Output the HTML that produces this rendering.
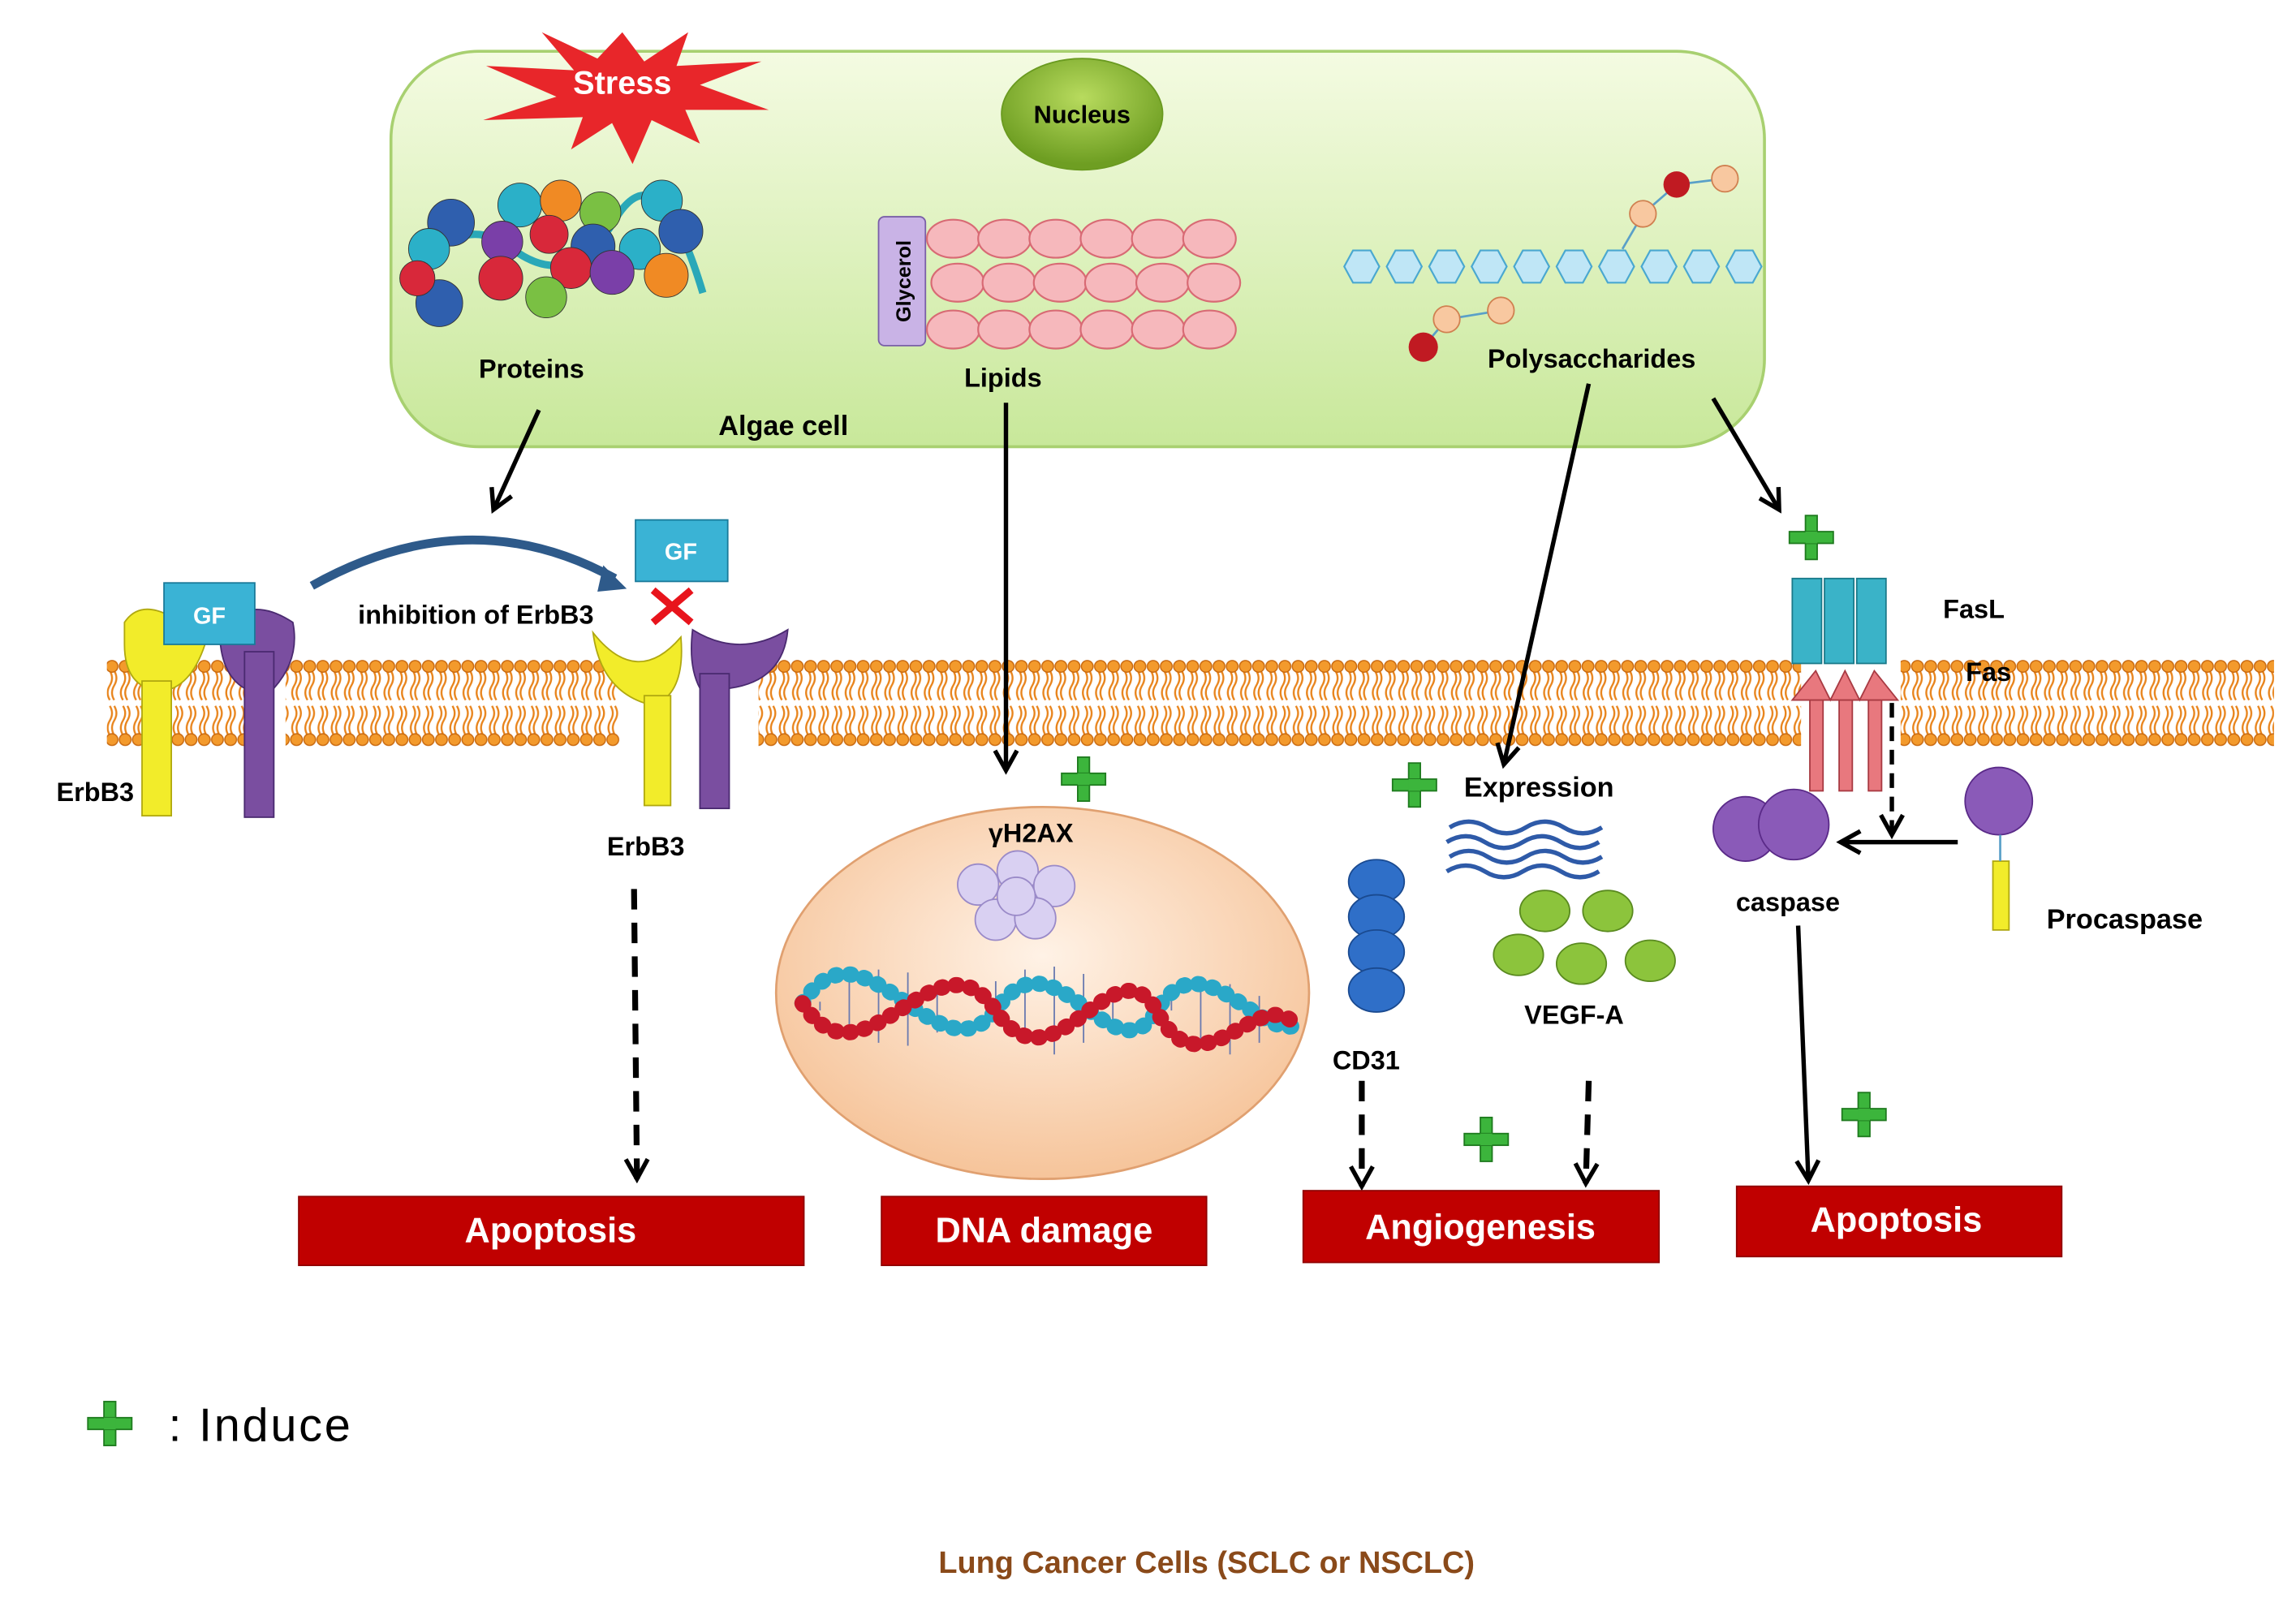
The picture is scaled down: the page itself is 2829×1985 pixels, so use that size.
<!DOCTYPE html>
<html><head><meta charset="utf-8"><style>
html,body{margin:0;padding:0;background:#fff;}
svg{display:block;}
text{font-family:"Liberation Sans",sans-serif;font-weight:bold;}
</style></head><body>
<svg width="2829" height="1985" viewBox="0 0 1568 1100" preserveAspectRatio="none" xmlns="http://www.w3.org/2000/svg">
<defs>
<linearGradient id="cell" x1="0" y1="0" x2="0" y2="1"><stop offset="0" stop-color="#f4fbe2"/><stop offset="1" stop-color="#c8e89a"/></linearGradient>
<radialGradient id="nuc" cx="0.5" cy="0.4" r="0.6"><stop offset="0" stop-color="#fff2e6"/><stop offset="1" stop-color="#f6c49a"/></radialGradient>
<radialGradient id="gnuc" cx="0.5" cy="0.35" r="0.6"><stop offset="0" stop-color="#b8db5e"/><stop offset="1" stop-color="#6e9e22"/></radialGradient>
<pattern id="mem" x="0" y="450" width="9" height="60" patternUnits="userSpaceOnUse">
<path d="M3,8 q3,5 0,10 q-3,5 0,10 M6,8 q3,5 0,10 q-3,5 0,10 M3,32 q3,5 0,10 q-3,5 0,10 M6,32 q3,5 0,10 q-3,5 0,10" stroke="#e8841c" stroke-width="1.3" fill="none"/>
<circle cx="4.5" cy="5" r="4" fill="#f39a2c" stroke="#c8680e" stroke-width="0.8"/>
<circle cx="4.5" cy="55" r="4" fill="#f39a2c" stroke="#c8680e" stroke-width="0.8"/>
</pattern>
<marker id="ah2" viewBox="0 0 12 12" refX="10" refY="6" markerWidth="18" markerHeight="18" orient="auto" markerUnits="userSpaceOnUse"><path d="M1,1 L10,6 L1,11" fill="none" stroke="#000" stroke-width="2"/></marker>
<g id="plus"><rect x="-4" y="-15" width="8" height="30" fill="#3cb53c" stroke="#1e7a1e" stroke-width="1"/><rect x="-15" y="-4" width="30" height="8" fill="#3cb53c" stroke="#1e7a1e" stroke-width="1"/><rect x="-4" y="-4" width="8" height="8" fill="#3cb53c"/></g>
</defs>
<rect width="1568" height="1100" fill="#fff"/>

<rect x="267" y="35" width="938" height="270" rx="60" fill="url(#cell)" stroke="#a8d070" stroke-width="2"/>
<polygon points="425,22 440,42 470,22 462,45 520,42 478,58 525,75 468,75 478,98 445,82 432,112 418,84 390,102 398,80 330,82 380,66 332,45 392,48 370,22 408,40" fill="#e8262a"/>
<text x="425" y="64" font-size="22" fill="#fff" text-anchor="middle">Stress</text>
<ellipse cx="739" cy="78" rx="55" ry="38" fill="url(#gnuc)" stroke="#6a9a20"/>
<text x="739" y="84" font-size="17" text-anchor="middle">Nucleus</text>
<path d="M280,200 Q310,140 350,170 T420,150 T480,200" stroke="#2aa8b8" stroke-width="5" fill="none"/>
<g stroke="#333" stroke-width="0.5">
<circle cx="308" cy="152" r="16" fill="#2f5fae"/><circle cx="355" cy="140" r="15" fill="#2bb0c8"/><circle cx="383" cy="137" r="14" fill="#f08a24"/>
<circle cx="410" cy="145" r="14" fill="#7ac043"/><circle cx="452" cy="137" r="14" fill="#2bb0c8"/><circle cx="465" cy="158" r="15" fill="#2f5fae"/>
<circle cx="293" cy="170" r="14" fill="#2bb0c8"/><circle cx="343" cy="165" r="14" fill="#7a3fa8"/><circle cx="405" cy="168" r="15" fill="#2f5fae"/>
<circle cx="375" cy="160" r="13" fill="#d8283a"/><circle cx="437" cy="170" r="14" fill="#2bb0c8"/><circle cx="342" cy="190" r="15" fill="#d8283a"/>
<circle cx="390" cy="183" r="14" fill="#d8283a"/><circle cx="418" cy="186" r="15" fill="#7a3fa8"/><circle cx="455" cy="188" r="15" fill="#f08a24"/>
<circle cx="300" cy="207" r="16" fill="#2f5fae"/><circle cx="373" cy="203" r="14" fill="#7ac043"/><circle cx="285" cy="190" r="12" fill="#d8283a"/>
</g>
<text x="363" y="258" font-size="18" text-anchor="middle">Proteins</text>
<rect x="600" y="148" width="32" height="88" rx="4" fill="#c9b3e6" stroke="#7a5fa8"/>
<text transform="translate(622,192) rotate(-90)" font-size="14" text-anchor="middle">Glycerol</text>
<g fill="#f6b8bc" stroke="#d86a74" stroke-width="1.2">
<ellipse cx="651" cy="163" rx="18" ry="13"/><ellipse cx="686" cy="163" rx="18" ry="13"/><ellipse cx="721" cy="163" rx="18" ry="13"/><ellipse cx="756" cy="163" rx="18" ry="13"/><ellipse cx="791" cy="163" rx="18" ry="13"/><ellipse cx="826" cy="163" rx="18" ry="13"/>
<ellipse cx="654" cy="193" rx="18" ry="13"/><ellipse cx="689" cy="193" rx="18" ry="13"/><ellipse cx="724" cy="193" rx="18" ry="13"/><ellipse cx="759" cy="193" rx="18" ry="13"/><ellipse cx="794" cy="193" rx="18" ry="13"/><ellipse cx="829" cy="193" rx="18" ry="13"/>
<ellipse cx="651" cy="225" rx="18" ry="13"/><ellipse cx="686" cy="225" rx="18" ry="13"/><ellipse cx="721" cy="225" rx="18" ry="13"/><ellipse cx="756" cy="225" rx="18" ry="13"/><ellipse cx="791" cy="225" rx="18" ry="13"/><ellipse cx="826" cy="225" rx="18" ry="13"/>
</g>
<text x="685" y="264" font-size="18" text-anchor="middle">Lipids</text>
<g fill="#bfe6f6" stroke="#4aa8d0" stroke-width="1.2">
<polygon points="918,182 924,171 936,171 942,182 936,193 924,193"/>
<polygon points="947,182 953,171 965,171 971,182 965,193 953,193"/>
<polygon points="976,182 982,171 994,171 1000,182 994,193 982,193"/>
<polygon points="1005,182 1011,171 1023,171 1029,182 1023,193 1011,193"/>
<polygon points="1034,182 1040,171 1052,171 1058,182 1052,193 1040,193"/>
<polygon points="1063,182 1069,171 1081,171 1087,182 1081,193 1069,193"/>
<polygon points="1092,182 1098,171 1110,171 1116,182 1110,193 1098,193"/>
<polygon points="1121,182 1127,171 1139,171 1145,182 1139,193 1127,193"/>
<polygon points="1150,182 1156,171 1168,171 1174,182 1168,193 1156,193"/>
<polygon points="1179,182 1185,171 1197,171 1203,182 1197,193 1185,193"/>
</g>
<path d="M1108,170 L1122,146 L1145,126 L1178,122 M972,237 L988,218 L1025,212" stroke="#5aa0c8" stroke-width="1.5" fill="none"/>
<circle cx="1122" cy="146" r="9" fill="#f8c8a0" stroke="#d08050"/><circle cx="1145" cy="126" r="9" fill="#c01a22"/><circle cx="1178" cy="122" r="9" fill="#f8c8a0" stroke="#d08050"/>
<circle cx="972" cy="237" r="10" fill="#c01a22"/><circle cx="988" cy="218" r="9" fill="#f8c8a0" stroke="#d08050"/><circle cx="1025" cy="212" r="9" fill="#f8c8a0" stroke="#d08050"/>
<text x="1087" y="251" font-size="18" text-anchor="middle">Polysaccharides</text>
<text x="535" y="297" font-size="19" text-anchor="middle">Algae cell</text>

<rect x="73" y="450" width="95" height="60" fill="url(#mem)"/>
<rect x="195" y="450" width="228" height="60" fill="url(#mem)"/>
<rect x="518" y="450" width="712" height="60" fill="url(#mem)"/>
<rect x="1298" y="450" width="255" height="60" fill="url(#mem)"/>

<path d="M85,425 Q95,410 115,420 L140,440 Q130,470 110,472 Q85,470 85,440 Z" fill="#f2ec2a" stroke="#b0a810"/>
<rect x="97" y="465" width="20" height="92" fill="#f2ec2a" stroke="#b0a810"/>
<path d="M150,430 Q170,405 200,425 Q205,450 187,470 L167,470 Q150,460 150,430 Z" fill="#7a4ea0" stroke="#4a2a70"/>
<rect x="167" y="445" width="20" height="113" fill="#7a4ea0" stroke="#4a2a70"/>
<rect x="112" y="398" width="62" height="42" fill="#3ab3d5" stroke="#1a7a9a"/>
<text x="143" y="426" font-size="16" fill="#fff" text-anchor="middle" font-weight="normal">GF</text>
<text x="65" y="547" font-size="18" text-anchor="middle">ErbB3</text>

<path d="M213,400 Q320,340 420,395" stroke="#2e5a8a" stroke-width="6" fill="none"/>
<polygon points="412,386 428,402 408,404" fill="#2e5a8a"/>
<text x="325" y="426" font-size="18" text-anchor="middle">inhibition of ErbB3</text>
<path d="M405,432 Q435,470 465,435 Q468,470 450,480 L440,480 Q410,470 405,432 Z" fill="#f2ec2a" stroke="#b0a810"/>
<rect x="440" y="475" width="18" height="75" fill="#f2ec2a" stroke="#b0a810"/>
<path d="M473,430 Q505,450 538,430 Q535,465 498,470 L478,470 Q470,455 473,430 Z" fill="#7a4ea0" stroke="#4a2a70"/>
<rect x="478" y="460" width="20" height="92" fill="#7a4ea0" stroke="#4a2a70"/>
<rect x="434" y="355" width="63" height="42" fill="#3ab3d5" stroke="#1a7a9a"/>
<text x="465" y="382" font-size="16" fill="#fff" text-anchor="middle" font-weight="normal">GF</text>
<path d="M446,403 L472,425 M472,403 L446,425" stroke="#e8141c" stroke-width="5"/>
<text x="441" y="584" font-size="18" text-anchor="middle">ErbB3</text>

<line x1="368" y1="280" x2="337" y2="348" stroke="#000" stroke-width="3" marker-end="url(#ah2)"/>
<line x1="687" y1="275" x2="687" y2="526" stroke="#000" stroke-width="3" marker-end="url(#ah2)"/>
<line x1="1085" y1="262" x2="1027" y2="522" stroke="#000" stroke-width="3" marker-end="url(#ah2)"/>
<line x1="1170" y1="272" x2="1215" y2="348" stroke="#000" stroke-width="3" marker-end="url(#ah2)"/>
<line x1="433" y1="607" x2="435" y2="805" stroke="#000" stroke-width="4" stroke-dasharray="14,9" marker-end="url(#ah2)"/>
<line x1="930" y1="738" x2="930" y2="810" stroke="#000" stroke-width="4" stroke-dasharray="14,9" marker-end="url(#ah2)"/>
<line x1="1085" y1="738" x2="1083" y2="808" stroke="#000" stroke-width="4" stroke-dasharray="14,9" marker-end="url(#ah2)"/>
<line x1="1228" y1="632" x2="1235" y2="806" stroke="#000" stroke-width="3" marker-end="url(#ah2)"/>
<line x1="1292" y1="480" x2="1292" y2="570" stroke="#000" stroke-width="3" stroke-dasharray="10,6" marker-end="url(#ah2)"/>
<line x1="1337" y1="575" x2="1257" y2="575" stroke="#000" stroke-width="3" marker-end="url(#ah2)"/>

<ellipse cx="712" cy="678" rx="182" ry="127" fill="url(#nuc)" stroke="#e0a070" stroke-width="1.5"/>
<text x="704" y="575" font-size="18" text-anchor="middle">γH2AX</text>
<g fill="#d9d0f2" stroke="#9a8ac8">
<circle cx="668" cy="604" r="14"/><circle cx="695" cy="595" r="14"/><circle cx="720" cy="605" r="14"/><circle cx="680" cy="628" r="14"/><circle cx="707" cy="627" r="14"/><circle cx="694" cy="612" r="13"/>
</g>
<g stroke="#6a7ab0" stroke-width="1">
<path d="M560,690 L560,684 M580,700 L580,670 M600,712 L600,662 M620,714 L620,664 M640,705 L640,676 M680,690 L680,670 M700,710 L700,662 M720,720 L720,660 M740,712 L740,665 M760,700 L760,675 M800,690 L800,675 M820,710 L820,670 M840,720 L840,672 M860,712 L860,680"/>
</g>
<path d="M548,685 C590,620 640,740 680,690 C720,630 760,740 790,690 C820,640 860,710 885,700" stroke="#2aa8c8" stroke-width="11" stroke-dasharray="1,9" stroke-linecap="round" fill="none"/>
<path d="M548,685 C590,750 640,630 680,690 C720,750 760,640 790,690 C820,750 860,670 885,700" stroke="#c8182a" stroke-width="11" stroke-dasharray="1,9" stroke-linecap="round" fill="none"/>

<g fill="#2f6fc8" stroke="#1a4a90"><ellipse cx="940" cy="602" rx="19" ry="15"/><ellipse cx="940" cy="626" rx="19" ry="15"/><ellipse cx="940" cy="650" rx="19" ry="15"/><ellipse cx="940" cy="676" rx="19" ry="15"/></g>
<text x="933" y="730" font-size="18" text-anchor="middle">CD31</text>
<text x="1051" y="544" font-size="19" text-anchor="middle">Expression</text>
<g stroke="#2e5aa8" stroke-width="3" fill="none">
<path d="M990,565 q13,-8 26,0 t26,0 t26,0 t26,0"/><path d="M988,575 q13,-8 26,0 t26,0 t26,0 t26,0"/><path d="M990,585 q13,-8 26,0 t26,0 t26,0 t26,0"/><path d="M988,595 q13,-8 26,0 t26,0 t26,0 t26,0"/>
</g>
<g fill="#8cc43c" stroke="#5a8a20"><ellipse cx="1055" cy="622" rx="17" ry="14"/><ellipse cx="1098" cy="622" rx="17" ry="14"/><ellipse cx="1037" cy="652" rx="17" ry="14"/><ellipse cx="1080" cy="658" rx="17" ry="14"/><ellipse cx="1127" cy="656" rx="17" ry="14"/></g>
<text x="1075" y="699" font-size="18" text-anchor="middle">VEGF-A</text>

<g fill="#3ab3c8" stroke="#1a7a8a"><rect x="1224" y="395" width="20" height="58"/><rect x="1246" y="395" width="20" height="58"/><rect x="1268" y="395" width="20" height="58"/></g>
<g fill="#e8787e" stroke="#a83a42"><rect x="1236" y="470" width="9" height="70"/><rect x="1256" y="470" width="9" height="70"/><rect x="1276" y="470" width="9" height="70"/>
<path d="M1224,478 L1240,458 L1250,478 L1260,458 L1270,478 L1280,458 L1296,478 Z"/></g>
<text x="1348" y="422" font-size="18" text-anchor="middle">FasL</text>
<text x="1358" y="465" font-size="18" text-anchor="middle">Fas</text>
<g fill="#8a5ab8" stroke="#5a2a88"><circle cx="1192" cy="566" r="22"/><circle cx="1225" cy="563" r="24"/><circle cx="1365" cy="547" r="23"/></g>
<rect x="1361" y="588" width="11" height="47" fill="#f2ec2a" stroke="#b0a810"/>
<line x1="1366" y1="570" x2="1366" y2="588" stroke="#5aa0c8" stroke-width="1.5"/>
<text x="1221" y="622" font-size="18" text-anchor="middle">caspase</text>
<text x="1451" y="634" font-size="19" text-anchor="middle">Procaspase</text>

<use href="#plus" x="1237" y="367"/><use href="#plus" x="740" y="532"/><use href="#plus" x="966" y="536"/><use href="#plus" x="1015" y="778"/><use href="#plus" x="1273" y="761"/><use href="#plus" x="75" y="972"/>

<g fill="#c00000" stroke="#900000">
<rect x="204" y="817" width="345" height="47"/><rect x="602" y="817" width="222" height="47"/><rect x="890" y="813" width="243" height="49"/><rect x="1186" y="810" width="222" height="48"/>
</g>
<g fill="#fff" font-size="24" text-anchor="middle">
<text x="376" y="848">Apoptosis</text><text x="713" y="848">DNA damage</text><text x="1011" y="846">Angiogenesis</text><text x="1295" y="841">Apoptosis</text>
</g>
<text x="115" y="984" font-size="32" style="font-weight:normal;letter-spacing:1.5px">: Induce</text>
<text x="824" y="1074" font-size="21" fill="#8a4a1a" text-anchor="middle">Lung Cancer Cells (SCLC or NSCLC)</text>
</svg>
</body></html>
